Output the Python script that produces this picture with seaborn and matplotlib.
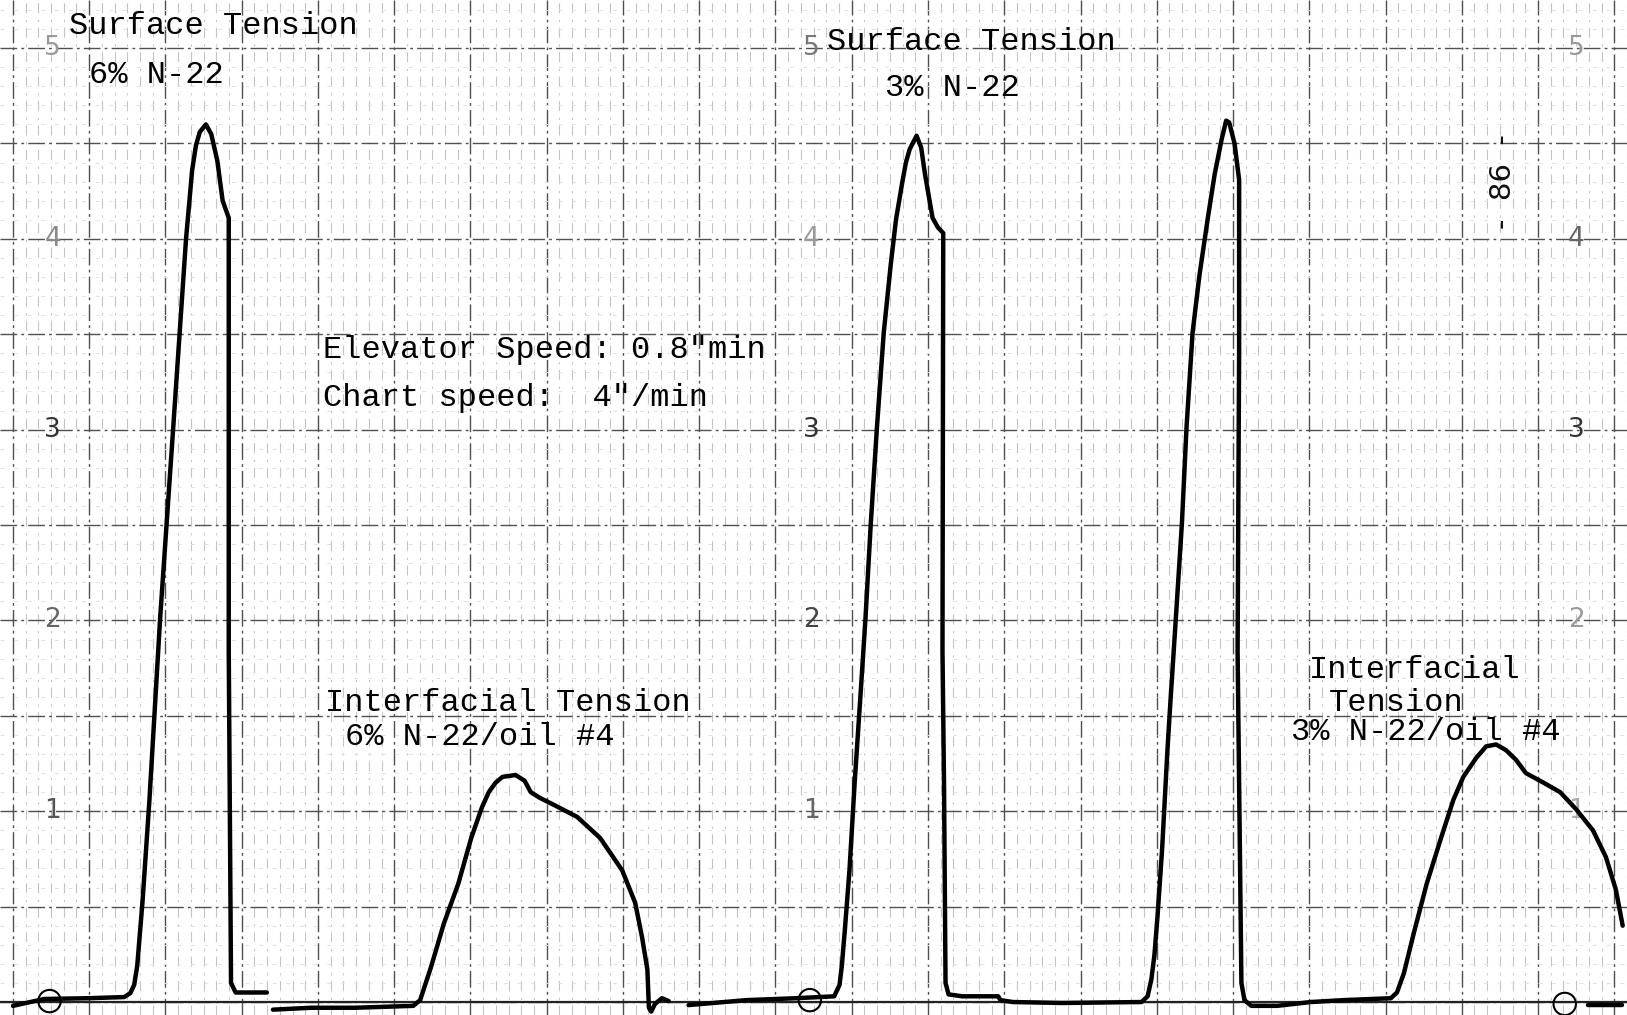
import numpy as np
import pandas as pd
import matplotlib
matplotlib.use("Agg")
import matplotlib.pyplot as plt
import seaborn as sns

# ---- data (x in chart divisions, y in tension-scale units) ----
seg_a_x = [0.00, 0.41, 0.99, 1.46, 1.54, 1.59, 1.63, 1.70, 1.79, 1.93, 2.10, 2.27, 2.35, 2.40,
           2.45, 2.53, 2.60, 2.68, 2.75, 2.83, 2.83, 2.86, 2.92, 3.33]
seg_a_y = [-0.02, 0.016, 0.02, 0.026, 0.047, 0.09, 0.19, 0.53, 1.06, 2.01, 3.00, 4.00, 4.36, 4.49,
           4.56, 4.60, 4.55, 4.41, 4.20, 4.11, 1.84, 0.10, 0.05, 0.05]

seg_b_x = [3.41, 3.91, 4.49, 5.25, 5.34, 5.48, 5.65, 5.84, 6.01, 6.15, 6.24, 6.33, 6.42, 6.59,
           6.71, 6.79, 6.91, 7.11, 7.40, 7.70, 7.99, 8.16, 8.25, 8.32, 8.34, 8.37, 8.42, 8.51, 8.60]
seg_b_y = [-0.04, -0.03, -0.03, -0.02, 0.01, 0.18, 0.41, 0.62, 0.86, 1.02, 1.10, 1.15, 1.18, 1.19,
           1.16, 1.10, 1.07, 1.03, 0.97, 0.86, 0.69, 0.52, 0.34, 0.17, -0.03, -0.05, -0.01, 0.02, 0.005]

seg_c_x = [8.86, 9.62, 10.27, 10.77, 10.84, 10.87, 10.91, 10.97, 11.04, 11.12, 11.18, 11.25,
           11.33, 11.42, 11.51, 11.58, 11.66, 11.71, 11.76, 11.85, 11.91, 11.96, 12.06, 12.13,
           12.20, 12.19, 12.21, 12.23, 12.27, 12.45, 12.92, 12.95, 13.11, 13.76, 14.80, 14.88,
           14.93, 14.97, 15.01, 15.07, 15.14, 15.18, 15.25, 15.33, 15.39, 15.47, 15.56, 15.67,
           15.76, 15.85, 15.91, 15.95, 16.02, 16.08, 16.08, 16.06, 16.11, 16.15, 16.24, 16.58,
           17.02, 17.45, 18.07, 18.15, 18.24, 18.37, 18.54, 18.72, 18.89, 19.02, 19.19, 19.32,
           19.45, 19.58, 19.71, 19.84, 20.07, 20.29, 20.50, 20.72, 20.89, 21.02, 21.11]
seg_c_y = [-0.016, 0.01, 0.02, 0.03, 0.09, 0.19, 0.38, 0.69, 1.16, 1.64, 2.01, 2.51,
           3.01, 3.51, 3.86, 4.10, 4.29, 4.40, 4.47, 4.54, 4.48, 4.34, 4.11, 4.06,
           4.03, 1.84, 1.15, 0.10, 0.04, 0.03, 0.03, 0.01, 0.00, -0.005, 0.00, 0.03,
           0.12, 0.25, 0.45, 0.80, 1.32, 1.58, 2.01, 2.51, 3.01, 3.51, 3.81, 4.11,
           4.34, 4.52, 4.62, 4.61, 4.50, 4.31, 3.42, 1.84, 0.10, 0.01, -0.02, -0.02,
           0.00, 0.01, 0.02, 0.05, 0.15, 0.36, 0.62, 0.85, 1.06, 1.18, 1.28, 1.34,
           1.35, 1.32, 1.27, 1.20, 1.15, 1.10, 1.01, 0.90, 0.76, 0.59, 0.40]

seg_d_x = [20.65, 21.10]
seg_d_y = [-0.015, -0.015]

zero_marks_x = [0.48, 10.45, 20.35]
zero_marks_y = [0.005, 0.01, -0.01]

scale_values = [5, 4, 3, 2, 1]
scale_cols_x = [0.52, 10.47, 20.50]
scale_shade = [["#9a9a9a", "#8a8a8a", "#333333", "#666666", "#555555"],
               ["#777777", "#9a9a9a", "#333333", "#444444", "#666666"],
               ["#9a9a9a", "#666666", "#333333", "#9a9a9a", "#aaaaaa"]]

labels_text = ["Surface Tension", "6% N-22", "Surface Tension", "3% N-22",
               "Elevator Speed: 0.8\"min", "Chart speed:  4\"/min",
               "Interfacial Tension", "6% N-22/oil #4",
               "Interfacial", "Tension", "3% N-22/oil #4"]
labels_x = [0.73, 1.00, 10.67, 11.44, 4.07, 4.07, 4.09, 4.35, 17.00, 17.26, 16.76]
labels_y = [5.115, 4.86, 5.03, 4.79, 3.417, 3.166, 1.567, 1.389, 1.74, 1.567, 1.415]

frames = []
for name, xs, ys in [("a", seg_a_x, seg_a_y), ("b", seg_b_x, seg_b_y),
                     ("c", seg_c_x, seg_c_y), ("d", seg_d_x, seg_d_y)]:
    frames.append(pd.DataFrame({"x": xs, "y": ys, "seg": name}))
trace = pd.concat(frames, ignore_index=True)

sns.set_theme(style="white")
plt.rcParams["font.family"] = ["DejaVu Sans"]

fig = plt.figure(figsize=(16.27, 10.15), dpi=100)
ax = fig.add_axes([0, 0, 1, 1])
ax.set_xlim(-0.1697, 21.07)
ax.set_ylim(-0.068, 5.252)

# chart paper grid
ax.set_xticks(np.arange(0, 22, 1))
ax.set_xticks(np.arange(0, 21.2, 1 / 6), minor=True)
ax.set_yticks(np.arange(0, 5.3, 0.5))
ax.set_yticks(np.arange(0, 5.3, 0.1), minor=True)
ax.grid(which="minor", axis="x", color="#c4c4c4", linewidth=0.8, linestyle=(0, (9, 5, 2, 6)))
ax.grid(which="minor", axis="y", color="#e2e2e2", linewidth=0.7, linestyle=(0, (4, 10)))
ax.grid(which="major", axis="both", color="#505050", linewidth=1.0, linestyle=(0, (12, 3, 2, 3)))
ax.tick_params(which="both", length=0, labelbottom=False, labelleft=False)
for s in ax.spines.values():
    s.set_visible(False)
ax.axhline(0, color="#222222", linewidth=1.6, zorder=1)

# recorder trace
sns.lineplot(data=trace, x="x", y="y", units="seg", estimator=None, sort=False,
             color="black", linewidth=3.2, ax=ax, legend=False, zorder=5,
             solid_joinstyle="round", solid_capstyle="round")

# zero markers
sns.scatterplot(x=zero_marks_x, y=zero_marks_y, marker="o", s=260, facecolor="none",
                edgecolor="black", linewidth=1.5, ax=ax, zorder=6, legend=False)

# printed scale numerals
for cx, shades in zip(scale_cols_x, scale_shade):
    for v, c in zip(scale_values, shades):
        ax.text(cx, v, str(v), ha="center", va="center", fontsize=19, color=c,
                family=["DejaVu Sans"], zorder=3)

# page number
ax.text(19.54, 4.30, "-  86  -", rotation=90, ha="center", va="center", fontsize=21,
        color="#111111", family=["DejaVu Sans"], zorder=3)

# typed annotations
for t, x, y in zip(labels_text, labels_x, labels_y):
    ax.text(x, y, t, ha="left", va="center", fontsize=23, color="#000000",
            family=["Liberation Mono", "DejaVu Sans Mono"], zorder=7)

fig.savefig("out.png", dpi=100, facecolor="white")
